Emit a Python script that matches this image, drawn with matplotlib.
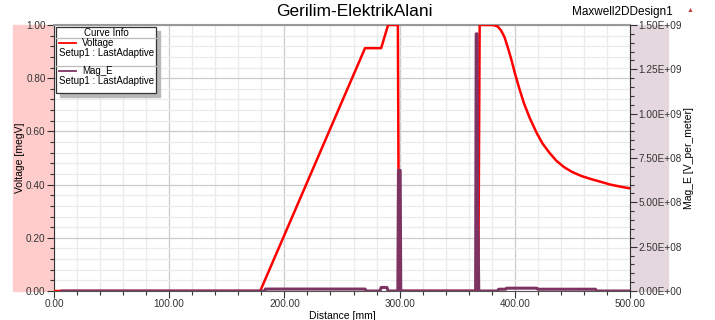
import matplotlib
matplotlib.use("Agg")
import matplotlib.pyplot as plt
from matplotlib.patches import Rectangle
from matplotlib.lines import Line2D
from matplotlib.ticker import MultipleLocator, FuncFormatter

plt.rcParams['font.family'] = ['Liberation Sans', 'DejaVu Sans']

# Voltage [megV] vs distance [mm]
volt_x = [0, 179, 270, 284, 290, 298.5, 299.5, 368.3, 369.5, 381, 385, 388, 391, 394,
          397, 400, 404, 408, 413, 419, 424, 430, 436, 443, 450, 458, 466, 475, 483, 492, 500]
volt_y = [0, 0, 0.913, 0.913, 1.0, 1.0, 0, 0, 1.0, 1.0, 0.995, 0.98, 0.955, 0.915,
          0.87, 0.82, 0.76, 0.705, 0.65, 0.594, 0.555, 0.52, 0.49, 0.465, 0.447, 0.432,
          0.421, 0.41, 0.4, 0.392, 0.386]

# Mag_E [V_per_meter] vs distance [mm]
mag_x = [7, 183, 183.5, 270, 271, 283, 284, 289, 290, 298.5, 299, 300.5, 301,
         366, 366.5, 367.3, 367.7, 368.2, 368.7, 385, 386, 392, 393, 419, 420, 470, 471, 500]
mag_y = [0, 0, 1.1e7, 1.1e7, 0, 0, 2e7, 2e7, 0, 0, 6.8e8, 6.8e8, 0,
         0, 1.45e9, 1.45e9, 4e8, 3e8, 0, 0, 1e7, 1e7, 1.6e7, 1.6e7, 1e7, 1e7, 0, 0]

W, H = 715, 320
fig = plt.figure(figsize=(W / 100, H / 100), dpi=100)

def fx(px):
    return px / W

def fy(py):
    return 1 - py / H

# side bands behind the axes
fig.patches.append(Rectangle((fx(13), fy(291)), fx(54) - fx(13), fy(25) - fy(291),
                             transform=fig.transFigure, color='#ffcccc', zorder=-5))
fig.patches.append(Rectangle((fx(630), fy(291)), fx(668) - fx(630), fy(25) - fy(291),
                             transform=fig.transFigure, color='#e4d7dd', zorder=-5))

ax = fig.add_axes([fx(54), fy(291), fx(630) - fx(54), fy(25) - fy(291)])
ax.set_xlim(0, 500)
ax.set_ylim(0, 1)
ax.xaxis.set_major_locator(MultipleLocator(100))
ax.xaxis.set_minor_locator(MultipleLocator(20))
ax.yaxis.set_major_locator(MultipleLocator(0.2))
ax.yaxis.set_minor_locator(MultipleLocator(0.04))
ax.xaxis.set_major_formatter(FuncFormatter(lambda v, p: f"{v:.2f}"))
ax.yaxis.set_major_formatter(FuncFormatter(lambda v, p: f"{v:.2f}"))
ax.grid(which='major', color='#cccccc', lw=0.9)
ax.grid(which='minor', color='#ebebeb', lw=0.9)
ax.set_axisbelow(True)
ax.tick_params(labelsize=7.2, colors='#333333', length=5, width=0.8, pad=1)
ax.tick_params(which='minor', length=3, width=0.8, colors='#333333')
ax.spines['top'].set_color('#999999')
ax.spines['top'].set_linewidth(1.5)
ax.spines['right'].set_visible(False)
ax.spines['bottom'].set_color('#555555')
ax.spines['left'].set_color('#333333')

ax.plot(volt_x, volt_y, color='#ff0000', lw=1.8, zorder=3)

ax2 = ax.twinx()
ax2.set_ylim(0, 1.5e9)
ax2.yaxis.set_major_locator(MultipleLocator(2.5e8))
ax2.yaxis.set_minor_locator(MultipleLocator(5e7))
ax2.yaxis.set_major_formatter(FuncFormatter(lambda v, p: f"{v:.2E}"))
ax2.tick_params(labelsize=7.2, colors='#333333', length=5, width=0.8, pad=1)
ax2.tick_params(which='minor', length=3, width=0.8, colors='#333333')
for s in ['top', 'left', 'bottom']:
    ax2.spines[s].set_visible(False)
ax2.spines['right'].set_color('#333333')
ax2.plot(mag_x, mag_y, color='#7d3463', lw=2.2)

ax.set_xlabel('Distance [mm]', fontsize=7.5, labelpad=1)
fig.text(fx(20), fy(158), 'Voltage [megV]', rotation=90, fontsize=7.5,
         ha='center', va='center')
fig.text(fx(689), fy(158), 'Mag_E [V_per_meter]', rotation=90, fontsize=7.5,
         ha='center', va='center')

fig.text(fx(354), fy(12), 'Gerilim-ElektrikAlani', fontsize=12.5, ha='center', va='center')
fig.text(fx(673), fy(12), 'Maxwell2DDesign1', fontsize=8.5, ha='right', va='center')
fig.text(fx(690), fy(11), '\u25b2', fontsize=5, color='#c04040', ha='center', va='center')

# Curve Info legend box
L, R, T, B = 56, 156, 27, 93
fig.patches.append(Rectangle((fx(L + 4), fy(B + 4)), fx(R) - fx(L), fy(T) - fy(B),
                             transform=fig.transFigure, color='#b8b8b8', zorder=5))
fig.patches.append(Rectangle((fx(L), fy(B)), fx(R) - fx(L), fy(T) - fy(B),
                             transform=fig.transFigure, facecolor='white',
                             edgecolor='#333333', lw=0.9, zorder=6))
for yy in (38, 66):
    fig.lines.append(Line2D([fx(L), fx(R)], [fy(yy), fy(yy)], transform=fig.transFigure,
                            color='#bbbbbb', lw=0.9, zorder=7))
fig.text(fx((L + R) / 2), fy(32.5), 'Curve Info', fontsize=7, ha='center', va='center', zorder=8)
for (ly, ty, name, col) in [(43, 53, 'Voltage', '#ff0000'), (71, 81, 'Mag_E', '#7d3463')]:
    fig.lines.append(Line2D([fx(59), fx(76)], [fy(ly), fy(ly)], transform=fig.transFigure,
                            color=col, lw=1.3, zorder=8))
    fig.text(fx(82), fy(ly), name, fontsize=7, ha='left', va='center', zorder=8)
    fig.text(fx(59), fy(ty), 'Setup1 : LastAdaptive', fontsize=7, ha='left', va='center', zorder=8)

fig.savefig('out.png', dpi=100)
